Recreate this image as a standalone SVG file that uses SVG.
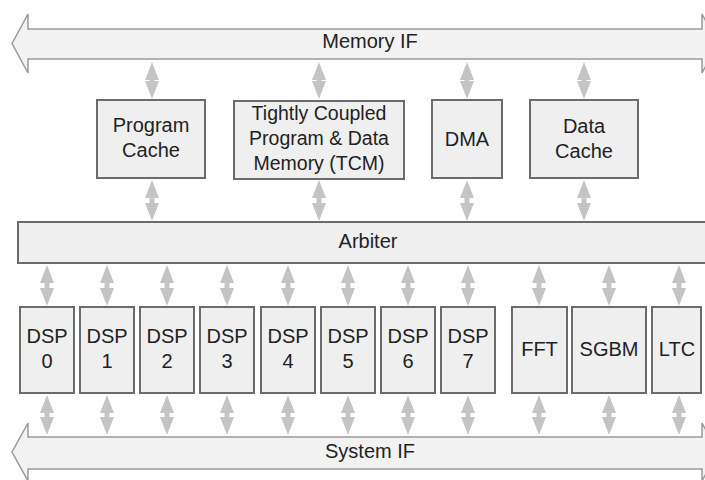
<svg xmlns="http://www.w3.org/2000/svg" width="705" height="480" viewBox="0 0 705 480">
<style>
.bus{fill:#f2f2f2;stroke:#9a9a9a;stroke-width:1.5}
.box{fill:#efefef;stroke:#6b6b6b;stroke-width:2}
.t{font-family:"Liberation Sans",Arial,sans-serif;font-size:20px;fill:#222;text-anchor:middle}
.c{stroke:#c4c4c4;stroke-width:5;fill:none;marker-start:url(#ah);marker-end:url(#ah)}
</style>
<defs>
<marker id="ah" viewBox="0 0 18 14" refX="8" refY="7" markerWidth="18" markerHeight="14" markerUnits="userSpaceOnUse" orient="auto-start-reverse">
<path d="M0,0 L18,7 L0,14 z" fill="#c4c4c4"/>
</marker>
</defs>
<rect width="705" height="480" fill="#ffffff"/>
<g id="memory-if">
<polygon class="bus" points="12,43.5 28,14 28,29 702,29 702,14 718,43.5 702,73 702,59 28,59 28,73"/>
<text class="t" x="370" y="48">Memory IF</text>
</g>
<g id="system-if">
<polygon class="bus" points="12,452 28,423 28,437 702,437 702,423 718,452 702,481 702,469 28,469 28,481"/>
<text class="t" x="370" y="458">System IF</text>
</g>
<g id="program-cache">
<rect class="box" x="97" y="100" width="108" height="78"/>
<text class="t" x="151" y="132">Program</text>
<text class="t" x="151" y="157">Cache</text>
</g>
<g id="tcm">
<rect class="box" x="234" y="101" width="170" height="78"/>
<text class="t" x="319" y="120" style="font-size:19.5px">Tightly Coupled</text>
<text class="t" x="319" y="145" style="font-size:19.5px">Program &amp; Data</text>
<text class="t" x="319" y="170" style="font-size:19.5px">Memory (TCM)</text>
</g>
<g id="dma">
<rect class="box" x="432" y="100" width="70" height="78"/>
<text class="t" x="467" y="146">DMA</text>
</g>
<g id="data-cache">
<rect class="box" x="530" y="100" width="108" height="78"/>
<text class="t" x="584" y="133">Data</text>
<text class="t" x="584" y="158">Cache</text>
</g>
<g id="arbiter">
<rect class="box" x="18" y="222" width="690" height="41"/>
<text class="t" x="368" y="248">Arbiter</text>
</g>
<g id="dsp0"><rect class="box" x="20" y="307" width="54" height="86"/><text class="t" x="47" y="343">DSP</text><text class="t" x="47" y="368">0</text></g>
<g id="dsp1"><rect class="box" x="80" y="307" width="54" height="86"/><text class="t" x="107" y="343">DSP</text><text class="t" x="107" y="368">1</text></g>
<g id="dsp2"><rect class="box" x="140" y="307" width="54" height="86"/><text class="t" x="167" y="343">DSP</text><text class="t" x="167" y="368">2</text></g>
<g id="dsp3"><rect class="box" x="200" y="307" width="54" height="86"/><text class="t" x="227" y="343">DSP</text><text class="t" x="227" y="368">3</text></g>
<g id="dsp4"><rect class="box" x="261" y="307" width="54" height="86"/><text class="t" x="288" y="343">DSP</text><text class="t" x="288" y="368">4</text></g>
<g id="dsp5"><rect class="box" x="321" y="307" width="54" height="86"/><text class="t" x="348" y="343">DSP</text><text class="t" x="348" y="368">5</text></g>
<g id="dsp6"><rect class="box" x="381" y="307" width="54" height="86"/><text class="t" x="408" y="343">DSP</text><text class="t" x="408" y="368">6</text></g>
<g id="dsp7"><rect class="box" x="441" y="307" width="54" height="86"/><text class="t" x="468" y="343">DSP</text><text class="t" x="468" y="368">7</text></g>
<g id="fft"><rect class="box" x="512" y="307" width="55" height="86"/><text class="t" x="539.5" y="356">FFT</text></g>
<g id="sgbm"><rect class="box" x="572" y="307" width="74" height="86"/><text class="t" x="609" y="356">SGBM</text></g>
<g id="ltc"><rect class="box" x="652" y="307" width="49" height="86"/><text class="t" x="677" y="356">LTC</text></g>
<g id="connectors">
<path class="c" d="M152,72 V89"/>
<path class="c" d="M319,72 V89"/>
<path class="c" d="M467,72 V89"/>
<path class="c" d="M584,72 V89"/>
<path class="c" d="M152,190 V211"/>
<path class="c" d="M319,190 V211"/>
<path class="c" d="M467,190 V211"/>
<path class="c" d="M584,190 V211"/>
<path class="c" d="M47,275 V296"/>
<path class="c" d="M107,275 V296"/>
<path class="c" d="M167,275 V296"/>
<path class="c" d="M227,275 V296"/>
<path class="c" d="M288,275 V296"/>
<path class="c" d="M348,275 V296"/>
<path class="c" d="M408,275 V296"/>
<path class="c" d="M468,275 V296"/>
<path class="c" d="M539,275 V296"/>
<path class="c" d="M609,275 V296"/>
<path class="c" d="M679,275 V296"/>
<path class="c" d="M47,405 V425"/>
<path class="c" d="M107,405 V425"/>
<path class="c" d="M167,405 V425"/>
<path class="c" d="M227,405 V425"/>
<path class="c" d="M288,405 V425"/>
<path class="c" d="M348,405 V425"/>
<path class="c" d="M408,405 V425"/>
<path class="c" d="M468,405 V425"/>
<path class="c" d="M539,405 V425"/>
<path class="c" d="M609,405 V425"/>
<path class="c" d="M679,405 V425"/>
</g>
</svg>
